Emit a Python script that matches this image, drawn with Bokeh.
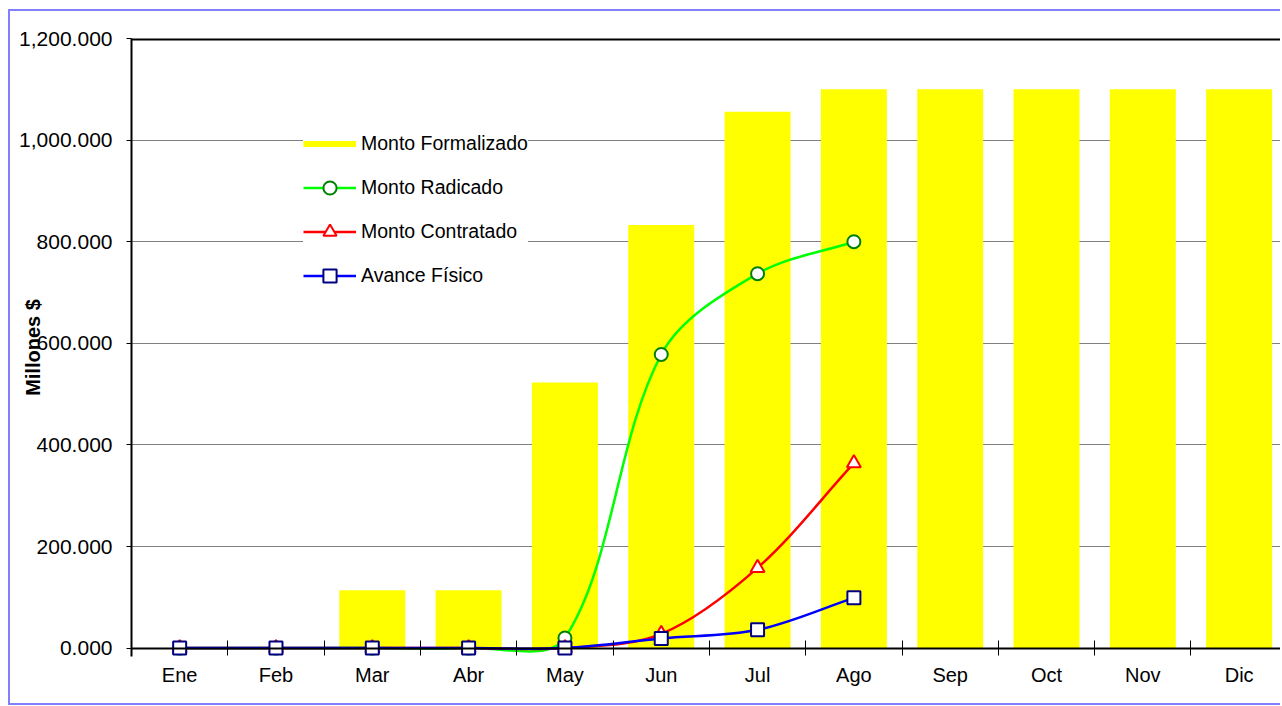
import math
from bokeh.plotting import figure
from bokeh.models import (Range1d, FixedTicker, NumeralTickFormatter, Legend, LegendItem,
                          ColumnDataSource, LinearAxis, Span)
from bokeh.embed import file_html
from bokeh.resources import INLINE

months = ["Ene", "Feb", "Mar", "Abr", "May", "Jun", "Jul", "Ago", "Sep", "Oct", "Nov", "Dic"]
monto_formalizado = [0, 0, 114, 114, 523, 833, 1056, 1100, 1100, 1100, 1100, 1100]
monto_radicado = [0, 0, 0, 0, 20, 578, 737, 800]
monto_contratado = [0, 0, 0, 0, 0, 28, 158, 364]
avance_fisico = [0, 0, 0, 0, 0, 19, 36, 99]
y_ticks = [0, 200, 400, 600, 800, 1000, 1200]

W, H = 1272, 696
MB_L, MB_T, MB_B, MB_R = 121, 27, 51, 0
X0, X1 = -0.5, 11.45
Y0, Y1 = -16.5, 1200

p = figure(width=W, height=H, output_backend="svg", toolbar_location=None,
           x_range=Range1d(X0, X1), y_range=Range1d(Y0, Y1),
           min_border_left=MB_L, min_border_top=MB_T, min_border_bottom=MB_B,
           min_border_right=MB_R)
p.styles = {"margin-left": "8px", "margin-top": "9px",
            "border-left": "2px solid #8080FF", "border-top": "2px solid #8080FF",
            "border-bottom": "2px solid #8080FF"}
p.outline_line_color = None
p.background_fill_color = "white"
p.border_fill_color = "white"

FONT = "Liberation Sans"
idx = list(range(len(months)))

# x axis labels (at the frame bottom, no line / ticks)
p.xaxis.ticker = FixedTicker(ticks=idx)
p.xaxis.major_label_overrides = {i: m for i, m in enumerate(months)}
p.xaxis.major_tick_line_color = None
p.xaxis.minor_tick_line_color = None
p.xaxis.major_tick_in = 0
p.xaxis.major_tick_out = 0
p.xaxis.axis_line_color = None
p.xaxis.major_label_standoff = 7
p.xaxis.major_label_text_font = FONT
p.xaxis.major_label_text_font_size = "20px"
p.xaxis.major_label_text_color = "black"
p.xgrid.grid_line_color = None

# x axis line and category boundary ticks, drawn at y = 0
zero_axis = LinearAxis(ticker=FixedTicker(ticks=idx, minor_ticks=[i - 0.5 for i in range(len(months) + 1)]),
                       fixed_location=0, axis_line_color="black", axis_line_width=2,
                       major_tick_line_color=None, major_tick_in=0, major_tick_out=0,
                       minor_tick_in=8, minor_tick_out=7, minor_tick_line_color="black",
                       major_label_text_font_size="0px", major_label_text_alpha=0)
p.add_layout(zero_axis, "below")

# top frame line
p.add_layout(Span(location=Y1, dimension="width", line_color="black", line_width=4))

# y axis
p.yaxis.ticker = FixedTicker(ticks=y_ticks)
p.yaxis.formatter = NumeralTickFormatter(format="0,0.000")
p.yaxis.major_tick_in = 0
p.yaxis.major_tick_out = 5
p.yaxis.major_tick_line_color = "black"
p.yaxis.minor_tick_line_color = None
p.yaxis.axis_line_color = "black"
p.yaxis.axis_line_width = 2
p.yaxis.major_label_standoff = 14
p.yaxis.major_label_text_font = FONT
p.yaxis.major_label_text_font_size = "21px"
p.yaxis.major_label_text_color = "black"
p.yaxis.axis_label = "Millones $"
p.yaxis.axis_label_text_font = FONT
p.yaxis.axis_label_text_font_size = "20px"
p.yaxis.axis_label_text_font_style = "bold"
p.yaxis.axis_label_text_color = "black"
p.yaxis.axis_label_standoff = -28

p.ygrid.ticker = FixedTicker(ticks=y_ticks[1:-1])
p.ygrid.grid_line_color = "black"
p.ygrid.grid_line_dash = "1 1"
p.ygrid.grid_line_width = 1

# bars
bars = p.vbar(x=idx, top=monto_formalizado, width=0.685, fill_color="#FFFF00", line_color=None)

# smoothing (Bezier through the data points, control points from neighbours in screen space)
sx = (W - MB_L - MB_R) / (X1 - X0)
sy = (H - MB_T - MB_B) / (Y1 - Y0)


def bezier_segments(xs, ys):
    P = [(x * sx, y * sy) for x, y in zip(xs, ys)]
    n = len(P)
    d = [math.hypot(P[i + 1][0] - P[i][0], P[i + 1][1] - P[i][1]) for i in range(n - 1)]
    T = []
    for i in range(n):
        a = P[i - 1] if i > 0 else P[i]
        b = P[i + 1] if i < n - 1 else P[i]
        T.append((b[0] - a[0], b[1] - a[1]))
    out = dict(x0=[], y0=[], x1=[], y1=[], cx0=[], cy0=[], cx1=[], cy1=[])
    for i in range(n - 1):
        dl = d[i - 1] if i > 0 else 0.0
        dr = d[i + 1] if i < n - 2 else 0.0
        f0 = d[i] / (dl + d[i]) / 3.0
        f1 = d[i] / (d[i] + dr) / 3.0
        c0 = (P[i][0] + T[i][0] * f0, P[i][1] + T[i][1] * f0)
        c1 = (P[i + 1][0] - T[i + 1][0] * f1, P[i + 1][1] - T[i + 1][1] * f1)
        out["x0"].append(P[i][0] / sx); out["y0"].append(P[i][1] / sy)
        out["x1"].append(P[i + 1][0] / sx); out["y1"].append(P[i + 1][1] / sy)
        out["cx0"].append(c0[0] / sx); out["cy0"].append(c0[1] / sy)
        out["cx1"].append(c1[0] / sx); out["cy1"].append(c1[1] / sy)
    return ColumnDataSource(out)


series = [
    (monto_radicado, "#00FF00", "circle", "#008000", 13, "Monto Radicado"),
    (monto_contratado, "#FF0000", "triangle", "#FF0000", 14, "Monto Contratado"),
    (avance_fisico, "#0000FF", "square", "#000080", 13, "Avance Físico"),
]

NAN = float("nan")
items = []
leg_bar = p.line(x=[NAN], y=[NAN], line_color="#FFFF00", line_width=6)
items.append(LegendItem(label="Monto Formalizado", renderers=[leg_bar]))
for vals, lc, mk, mc, ms, name in series:
    xs = idx[:len(vals)]
    src = bezier_segments(xs, vals)
    curve = p.bezier(x0="x0", y0="y0", x1="x1", y1="y1", cx0="cx0", cy0="cy0",
                     cx1="cx1", cy1="cy1", source=src, line_color=lc, line_width=2.5)
    leg_line = p.line(x=[NAN], y=[NAN], line_color=lc, line_width=2.5)
    pts = p.scatter(x=xs, y=vals, marker=mk, size=ms, fill_color="white",
                    line_color=mc, line_width=2)
    items.append(LegendItem(label=name, renderers=[leg_line, pts]))

legend = Legend(items=items, location=(172, 364))
legend.background_fill_color = "white"
legend.background_fill_alpha = 1
legend.border_line_color = None
legend.label_text_font = FONT
legend.label_text_font_size = "19.5px"
legend.label_text_color = "black"
legend.glyph_width = 53
legend.glyph_height = 33
legend.label_height = 33
legend.spacing = 11
legend.padding = 6
legend.margin = 0
legend.label_standoff = 5
p.add_layout(legend)

open("out.html", "w").write(file_html(p, INLINE))
